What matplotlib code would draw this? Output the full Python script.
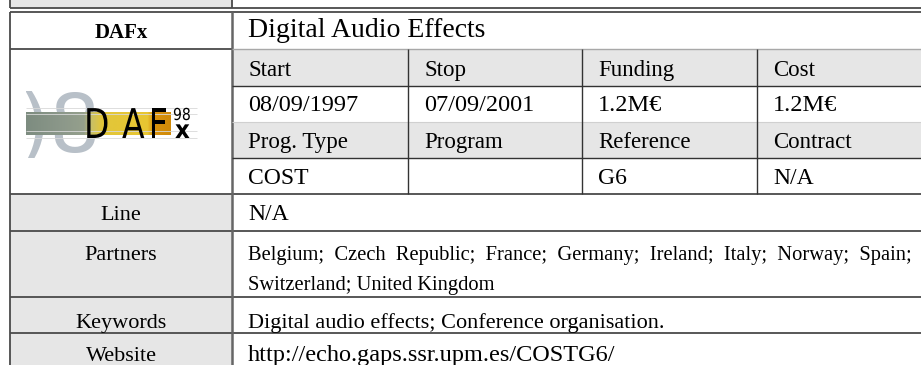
import numpy as np
import matplotlib
matplotlib.use('Agg')
import matplotlib.pyplot as plt
from matplotlib.patches import Rectangle, PathPatch
from matplotlib.colors import LinearSegmentedColormap
from matplotlib.textpath import TextPath
from matplotlib.font_manager import FontProperties
from matplotlib.transforms import Affine2D

# table content
title_short = "DAFx"
title_long = "Digital Audio Effects"
sub_headers_1 = ["Start", "Stop", "Funding", "Cost"]
sub_values_1 = ["08/09/1997", "07/09/2001", "1.2M€", "1.2M€"]
sub_headers_2 = ["Prog. Type", "Program", "Reference", "Contract"]
sub_values_2 = ["COST", "", "G6", "N/A"]
row_labels = ["Line", "Partners", "Keywords", "Website"]
line_value = "N/A"
partners_1 = ["Belgium;", "Czech", "Republic;", "France;", "Germany;",
              "Ireland;", "Italy;", "Norway;", "Spain;"]
partners_2 = "Switzerland; United Kingdom"
keywords = "Digital audio effects; Conference organisation."
website = "http://echo.gaps.ssr.upm.es/COSTG6/"

# layout (pixels)
W, H = 921, 365
x_left, x_mid = 10, 232
sub_cols = [232, 408, 582, 757, 930]
row_y = [12, 49, 86, 122, 158, 194, 231, 297, 333, 375]
grey = '#e6e6e6'
dark = '#4a4a4a'
serif = ['Liberation Serif', 'DejaVu Serif']

fig = plt.figure(figsize=(W / 100, H / 100), dpi=100)
ax = fig.add_axes([0, 0, 1, 1])
ax.set_xlim(0, W)
ax.set_ylim(H, 0)
ax.axis('off')

def box(x0, y0, x1, y1, fc):
    ax.add_patch(Rectangle((x0, y0), x1 - x0, y1 - y0, fc=fc, ec='none', zorder=1))

def hline(y, x0, x1, c=dark, lw=1.3):
    ax.plot([x0, x1], [y, y], color=c, lw=lw, zorder=3, solid_capstyle='butt')

def vline(x, y0, y1, c=dark, lw=1.3):
    ax.plot([x, x], [y0, y1], color=c, lw=lw, zorder=3, solid_capstyle='butt')

def glyph(s, x, base, sx, sy, weight='normal', color='black', z=4):
    tp = TextPath((0, 0), s, size=1, prop=FontProperties(family='DejaVu Sans', weight=weight))
    path = Affine2D().scale(sx, -sy).translate(x, base).transform_path(tp)
    ax.add_patch(PathPatch(path, fc=color, ec='none', zorder=z))

# top strip (end of previous table)
box(x_left, 0, x_mid, 8, grey)
hline(8, x_left, W)
vline(x_left, 0, 8)
vline(x_mid, 0, 8)

# grey fills
box(x_mid, row_y[1], W, row_y[2], grey)
box(x_mid, row_y[3], W, row_y[4], grey)
for i in range(5, 9):
    box(x_left, row_y[i], x_mid, row_y[i + 1], grey)

# main grid
hline(row_y[0], x_left, W)
hline(row_y[1], x_left, x_mid)
for y in row_y[5:9]:
    hline(y, x_left, W)
vline(x_left, row_y[0], H)
vline(x_mid, row_y[0], H, c='#666666', lw=1.8)

# sub grid
hline(row_y[1], x_mid, W, c='#a8a8a8', lw=1.0)
hline(row_y[2], x_mid, W, c='#333333', lw=1.0)
hline(row_y[3], x_mid, W, c='#d0d0d0', lw=0.8)
hline(row_y[4], x_mid, W, c='#333333', lw=1.0)
for x in sub_cols[1:4]:
    vline(x, row_y[1], row_y[5], c='#333333', lw=1.0)

# texts
ax.text(121, 38, title_short, fontsize=15, fontweight='bold', family=serif,
        ha='center', va='baseline')
ax.text(248, 37, title_long, fontsize=20, family=serif, va='baseline')
for j in range(4):
    tx = sub_cols[j] + 16
    ax.text(tx, 76, sub_headers_1[j], fontsize=16.5, family=serif, va='baseline')
    ax.text(tx, 111, sub_values_1[j], fontsize=17.5, family=serif, va='baseline')
    ax.text(tx, 148, sub_headers_2[j], fontsize=16.5, family=serif, va='baseline')
    ax.text(tx, 184, sub_values_2[j], fontsize=17, family=serif, va='baseline')

label_base = [220, 260, 328, 361]
for lab, yb in zip(row_labels, label_base):
    ax.text(121, yb, lab, fontsize=16, family=serif, ha='center', va='baseline')
ax.text(248, 220, line_value, fontsize=17, family=serif, va='baseline')
ax.text(248, 328, keywords, fontsize=16, family=serif, va='baseline')
ax.text(248, 361, website, fontsize=17.5, family=serif, va='baseline')

# justified partner line: one text, wide gaps, size fitted to the cell width
renderer = fig.canvas.get_renderer()
p1 = ax.text(248, 260, '  '.join(partners_1), fontsize=14.5, family=serif, va='baseline')
fs = 14.5 * (912 - 248) / p1.get_window_extent(renderer).width
p1.set_fontsize(fs)
ax.text(248, 290, partners_2, fontsize=fs, family=serif, va='baseline')

# logo
clip = Rectangle((26, 88), 172, 70, transform=ax.transData)
big = ax.text(18, 152, ')8', fontsize=58, color='#b8c0c8', family='DejaVu Sans',
              va='baseline', zorder=2, clip_on=True)
big.set_clip_path(clip)
cmap = LinearSegmentedColormap.from_list('logo', [(0.0, '#7d8c80'), (0.25, '#8c988a'),
                                                  (0.4, '#95a08c'), (0.45, '#c8c068'),
                                                  (0.52, '#e2c63a'), (0.84, '#e8c632'),
                                                  (0.88, '#d8920e'), (1.0, '#d08a08')])
ax.imshow(np.linspace(0, 1, 256)[None, :], cmap=cmap, aspect='auto',
          extent=(26, 170, 135, 112), zorder=2.5)
for y in [108, 114, 131, 138]:
    hline(y, 26, 197, c='#d8d8d8', lw=0.6)
for ch, x in zip("DAF", [84, 122, 149]):
    glyph(ch, x, 138, 33, 41)
glyph('98', 173, 120, 14, 16.5)
glyph('x', 175, 138, 23, 25, weight='bold')

ax.set_xlim(0, W)
ax.set_ylim(H, 0)
fig.savefig('out.png', dpi=100)
plt.close()
